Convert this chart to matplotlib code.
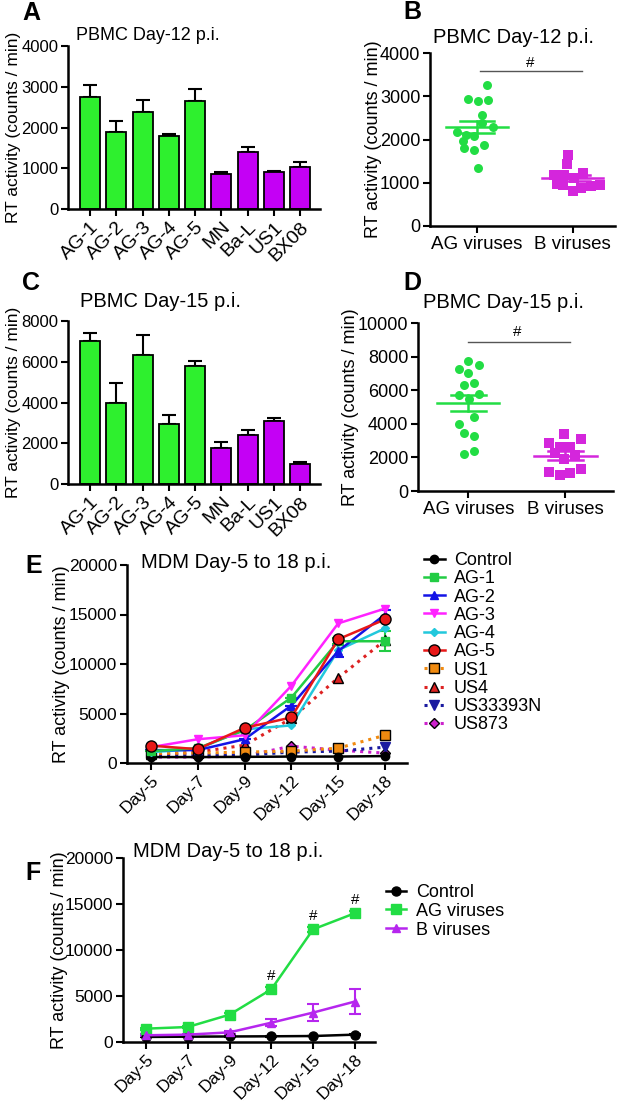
import matplotlib
matplotlib.use("Agg")
import matplotlib.pyplot as plt
import numpy as np

plt.rcParams['font.family'] = ['Liberation Sans', 'DejaVu Sans']

W, H = 622, 1101

# ---------------- data ----------------
bar_labels = ["AG-1", "AG-2", "AG-3", "AG-4", "AG-5", "MN", "Ba-L", "US1", "BX08"]
pbmc12_vals = [2750, 1880, 2380, 1790, 2650, 860, 1410, 910, 1040]
pbmc12_err = [300, 290, 300, 40, 300, 60, 120, 30, 120]
pbmc15_vals = [7000, 3980, 6320, 2950, 5800, 1750, 2420, 3070, 1000]
pbmc15_err = [400, 1000, 1000, 420, 250, 300, 220, 180, 100]
bar_is_ag = [True, True, True, True, True, False, False, False, False]

group_labels = ["AG viruses", "B viruses"]
d12_ag = [3270, 2940, 2900, 2920, 2570, 2370, 2300, 2180, 2100, 2090, 1970, 1870, 1800, 1750, 1350]
d12_ag_jit = [0.10, -0.09, 0.01, 0.12, 0.05, 0.05, 0.17, -0.21, -0.11, -0.03, -0.15, 0.07, -0.14, -0.035, 0.01]
d12_b = [1640, 1430, 1220, 1180, 1170, 1120, 960, 950, 940, 870, 800, 930]
d12_b_jit = [-0.05, -0.06, 0.11, -0.20, -0.09, 0.01, -0.17, -0.10, 0.28, 0.09, 0.0, 0.19]
d15_ag = [7740, 7480, 7260, 7000, 6450, 6290, 5730, 5790, 5490, 4390, 3970, 3430, 3290, 2200, 2400]
d15_ag_jit = [0.0, 0.11, -0.10, 0.0, 0.055, -0.05, -0.10, 0.11, 0.01, 0.055, -0.10, -0.05, 0.055, -0.05, 0.055]
d15_b = [3390, 3100, 2840, 2640, 2640, 2240, 2140, 1890, 1290, 1130, 1050, 930]
d15_b_jit = [-0.01, 0.155, -0.165, -0.06, 0.045, -0.11, 0.10, -0.01, 0.155, -0.165, 0.045, -0.06]

days = ["Day-5", "Day-7", "Day-9", "Day-12", "Day-15", "Day-18"]
mdm_names = ["Control", "AG-1", "AG-2", "AG-3", "AG-4", "AG-5", "US1", "US4", "US33393N", "US873"]
mdm_vals = {
    "Control":  [600, 600, 620, 650, 650, 700],
    "AG-1":     [1200, 1500, 3300, 6600, 12300, 12300],
    "AG-2":     [1300, 1300, 2400, 5800, 11300, 15000],
    "AG-3":     [1600, 2400, 2800, 7800, 14100, 15600],
    "AG-4":     [1100, 1400, 3400, 3800, 11400, 13600],
    "AG-5":     [1750, 1400, 3550, 4600, 12500, 14500],
    "US1":      [1000, 1000, 1100, 1200, 1500, 2800],
    "US4":      [900, 1100, 1800, 4500, 8600, 12400],
    "US33393N": [800, 800, 800, 1100, 1200, 1600],
    "US873":    [600, 600, 700, 1700, 1300, 1000],
}
mdm_err = {
    "AG-1": [0, 0, 0, 0, 300, 1000],
    "AG-2": [0, 0, 0, 0, 600, 500],
}

grp_names = ["Control", "AG viruses", "B viruses"]
grp_vals = {
    "Control":    [550, 580, 600, 620, 650, 800],
    "AG viruses": [1450, 1630, 2970, 5730, 12250, 14000],
    "B viruses":  [730, 800, 1050, 2100, 3200, 4400],
}
grp_err = {
    "Control":    [30, 30, 30, 30, 30, 30],
    "AG viruses": [100, 100, 150, 300, 300, 200],
    "B viruses":  [100, 100, 150, 400, 900, 1400],
}
sig_days = [3, 4, 5]

# ---------------- styles ----------------
GREEN_BAR = "#2EF02E"
PURPLE_BAR = "#C400F5"
GREEN_PT = "#22DD44"
MAG_PT = "#D426DC"

fig = plt.figure(figsize=(W / 100, H / 100), dpi=100)


def add_ax(l, r, t, b):
    return fig.add_axes([l / W, 1 - b / H, (r - l) / W, (b - t) / H])


def style(ax, tick_fs, xtick_fs=None):
    for s in ["top", "right"]:
        ax.spines[s].set_visible(False)
    for s in ["left", "bottom"]:
        ax.spines[s].set_linewidth(1.8)
    ax.tick_params(axis="both", direction="out", length=5, width=1.5, labelsize=tick_fs, pad=2)
    if xtick_fs is not None:
        ax.tick_params(axis="x", labelsize=xtick_fs)


def ylabel(ax, xpx, fs):
    ax.set_ylabel("RT activity (counts / min)", fontsize=fs)
    bb = ax.get_position()
    ax.yaxis.set_label_coords(xpx / W, bb.y0 + bb.height / 2, transform=fig.transFigure)


def ftext(xpx, ypx, s, **kw):
    fig.text(xpx / W, 1 - ypx / H, s, **kw)


# ---------- bar panels ----------
def bar_panel(box, vals, errs, ymax, ystep, title_xy, title_fs):
    ax = add_ax(*box)
    x = np.arange(len(vals))
    colors = [GREEN_BAR if g else PURPLE_BAR for g in bar_is_ag]
    ax.bar(x, vals, width=0.76, color=colors, edgecolor="black", linewidth=1.3, zorder=2)
    ax.errorbar(x, vals, yerr=[np.zeros(len(vals)), errs], fmt="none", ecolor="black",
                elinewidth=1.5, capsize=5, capthick=1.5, zorder=1)
    ax.set_xlim(-0.84, 8.76)
    ax.set_ylim(0, ymax)
    ax.set_yticks(np.arange(0, ymax + 1, ystep))
    ax.set_xticks(x)
    ax.set_xticklabels(bar_labels, rotation=45, ha="right", rotation_mode="anchor")
    style(ax, 12, 14)
    ftext(title_xy[0], title_xy[1], title_xy[2], fontsize=title_fs, ha="left", va="baseline")
    return ax


axA = bar_panel((68, 320, 46, 209), pbmc12_vals, pbmc12_err, 4000, 1000,
                (76, 40, "PBMC Day-12 p.i."), 13)
ylabel(axA, 21, 12.5)
axC = bar_panel((68, 320, 321, 484), pbmc15_vals, pbmc15_err, 8000, 2000,
                (80, 307, "PBMC Day-15 p.i."), 14.5)
ylabel(axC, 21, 12.5)


# ---------- scatter panels ----------
def scatter_panel(box, ag, agj, b, bj, ymax, ystep, xlim, sig, title_xy):
    ax = add_ax(*box)
    ax.scatter(np.array(agj), ag, s=42, marker="o", color=GREEN_PT, zorder=3, linewidths=0)
    ax.scatter(1 + np.array(bj), b, s=42, marker="s", color=MAG_PT, zorder=3, linewidths=0)
    for i, (d, c) in enumerate([(ag, GREEN_PT), (b, MAG_PT)]):
        m = np.mean(d)
        se = np.std(d, ddof=1) / np.sqrt(len(d))
        ax.plot([i - 0.32, i + 0.32], [m, m], color=c, lw=1.8, zorder=4)
        ax.plot([i - 0.18, i + 0.18], [m + se, m + se], color=c, lw=1.8, zorder=4)
        ax.plot([i - 0.18, i + 0.18], [m - se, m - se], color=c, lw=1.8, zorder=4)
        ax.plot([i, i], [m - se, m + se], color=c, lw=1.8, zorder=4)
    ax.plot([sig[0], sig[1]], [sig[2], sig[2]], color="#555555", lw=1.0)
    ax.text(sig[3], sig[4], "#", ha="center", va="center", fontsize=11)
    ax.set_xlim(*xlim)
    ax.set_ylim(0, ymax)
    ax.set_yticks(np.arange(0, ymax + 1, ystep))
    ax.set_xticks([0, 1])
    ax.set_xticklabels(group_labels)
    style(ax, 13, 13.5)
    ftext(title_xy[0], title_xy[1], title_xy[2], fontsize=14.5, ha="left", va="baseline")
    return ax


axB = scatter_panel((430, 615, 53, 226), d12_ag, d12_ag_jit, d12_b, d12_b_jit, 4000, 1000,
                    (-0.49, 1.44), (0.03, 1.10, 3584, 0.55, 3770), (433, 43, "PBMC Day-12 p.i."))
ylabel(axB, 382, 13)
axD = scatter_panel((418, 613, 323, 491), d15_ag, d15_ag_jit, d15_b, d15_b_jit, 10000, 2000,
                    (-0.52, 1.49), (0.0, 1.05, 8870, 0.5, 9450), (423, 308, "PBMC Day-15 p.i."))
ylabel(axD, 359, 13)

# ---------- MDM panel E ----------
axE = add_ax(127, 407, 565, 763)
xd = np.arange(len(days))
mdm_style = {
    "Control":  dict(color="black", ls="-", marker="o", mfc="black", mec="black", ms=6),
    "AG-1":     dict(color="#22CC44", ls="-", marker="s", mfc="#22CC44", mec="#22CC44", ms=6),
    "AG-2":     dict(color="#1414E6", ls="-", marker="^", mfc="#1414E6", mec="#1414E6", ms=6),
    "AG-3":     dict(color="#FF22FF", ls="-", marker="v", mfc="#FF22FF", mec="#FF22FF", ms=6),
    "AG-4":     dict(color="#22C8DC", ls="-", marker="D", mfc="#22C8DC", mec="#22C8DC", ms=4.5),
    "AG-5":     dict(color="#E81818", ls="-", marker="o", mfc="#E81818", mec="black", ms=8),
    "US1":      dict(color="#F08A10", ls=":", marker="s", mfc="#F08A10", mec="black", ms=6.5),
    "US4":      dict(color="#DD2222", ls=":", marker="^", mfc="#DD2222", mec="black", ms=6.5),
    "US33393N": dict(color="#1A1AA0", ls=":", marker="v", mfc="#1A1AA0", mec="#1A1AA0", ms=6.5),
    "US873":    dict(color="#CC22CC", ls=":", marker="D", mfc="#CC22CC", mec="black", ms=5.5),
}
draw_order = ["US873", "US33393N", "US4", "US1", "Control", "AG-4", "AG-2", "AG-1", "AG-3", "AG-5"]
handles = {}
for name in draw_order:
    st = mdm_style[name]
    lw = 2.2 if st["ls"] == ":" else 1.8
    line, = axE.plot(xd, mdm_vals[name], linestyle=st["ls"], color=st["color"], lw=lw,
                     marker=st["marker"], mfc=st["mfc"], mec=st["mec"], ms=st["ms"], mew=1.0,
                     label=name, zorder=3)
    handles[name] = line
    if name in mdm_err:
        axE.errorbar(xd, mdm_vals[name], yerr=mdm_err[name], fmt="none", ecolor=st["color"],
                     elinewidth=1.5, capsize=4, capthick=1.5, zorder=2)
axE.set_xlim(-0.51, 5.47)
axE.set_ylim(0, 20000)
axE.set_yticks(np.arange(0, 20001, 5000))
axE.set_xticks(xd)
axE.set_xticklabels(days, rotation=45, ha="right", rotation_mode="anchor")
style(axE, 12.5, 12.5)
ylabel(axE, 70, 13)
ftext(141, 568, "MDM Day-5 to 18 p.i.", fontsize=14.5, ha="left", va="baseline")
axE.legend([handles[n] for n in mdm_names], mdm_names, loc="upper left",
           bbox_to_anchor=(424 / W, 1 - 552 / H), bbox_transform=fig.transFigure,
           frameon=False, fontsize=13, handlelength=1.15, handletextpad=0.5,
           labelspacing=0.07, borderpad=0, borderaxespad=0)

# ---------- MDM panel F ----------
axF = add_ax(123, 375, 858, 1042)
grp_style = {
    "Control":    dict(color="black", marker="o", ms=6.5),
    "AG viruses": dict(color="#22DD44", marker="s", ms=7),
    "B viruses":  dict(color="#B626EE", marker="^", ms=6),
}
fh = []
for name in grp_names:
    st = grp_style[name]
    axF.errorbar(xd, grp_vals[name], yerr=grp_err[name], fmt="none", ecolor=st["color"],
                 elinewidth=1.5, capsize=4, capthick=1.5, zorder=2)
    line, = axF.plot(xd, grp_vals[name], color=st["color"], lw=1.8, marker=st["marker"],
                     ms=st["ms"], mfc=st["color"], mec=st["color"], label=name, zorder=3)
    fh.append(line)
for d in sig_days:
    axF.annotate("#", (d, grp_vals["AG viruses"][d]), xytext=(0, 13), textcoords="offset pixels",
                 ha="center", va="center", fontsize=11)
axF.set_xlim(-0.55, 5.48)
axF.set_ylim(0, 20000)
axF.set_yticks(np.arange(0, 20001, 5000))
axF.set_xticks(xd)
axF.set_xticklabels(days, rotation=45, ha="right", rotation_mode="anchor")
style(axF, 12.5, 12.5)
ylabel(axF, 68, 13)
ftext(133, 857, "MDM Day-5 to 18 p.i.", fontsize=14.5, ha="left", va="baseline")
axF.legend(fh, grp_names, loc="upper left",
           bbox_to_anchor=(386 / W, 1 - 884 / H), bbox_transform=fig.transFigure,
           frameon=False, fontsize=13, handlelength=1.1, handletextpad=0.55,
           labelspacing=0.1, borderpad=0, borderaxespad=0)

# ---------- panel letters ----------
for lx, ly, s in [(22, 20, "A"), (403, 19, "B"), (22, 290, "C"), (403, 290, "D"),
                  (25, 573, "E"), (25, 880, "F")]:
    ftext(lx, ly, s, fontsize=18, fontweight="bold", ha="left", va="baseline")

fig.savefig("out.png", dpi=100)
